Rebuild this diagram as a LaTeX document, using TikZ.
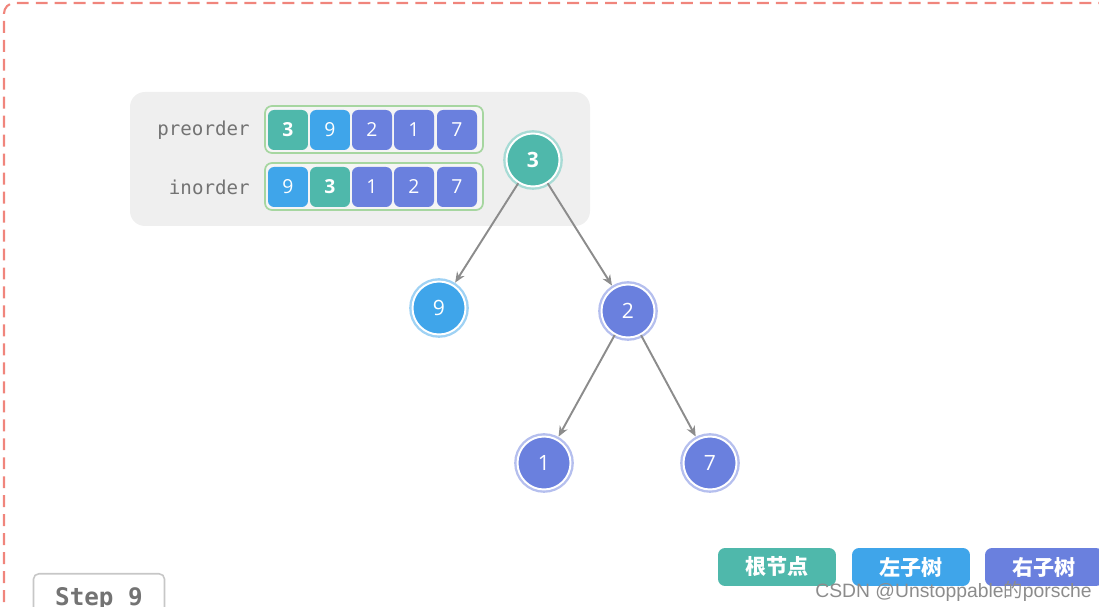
\documentclass[tikz,border=0pt]{standalone}
\usepackage{fontspec}
\setmainfont{Open Sans}
\setmonofont{DejaVu Sans Mono}
\newfontfamily\cjkfont{Noto Sans CJK SC}
\newfontfamily\wmfont{Liberation Sans}
\usetikzlibrary{arrows.meta}
\definecolor{colTeal}{HTML}{4FB8AB}
\definecolor{colBlue}{HTML}{3FA5EA}
\definecolor{colPurple}{HTML}{6A80DE}
\definecolor{colPanel}{HTML}{EFEFEF}
\definecolor{colFrame}{HTML}{A6D6A0}
\definecolor{colDash}{HTML}{F0857C}
\definecolor{colEdge}{HTML}{8C8C8C}
\def\cellfont{\fontsize{11pt}{13pt}\selectfont}
\def\treefont{\fontsize{12pt}{14pt}\selectfont}
\def\seqfont{\fontsize{10.9pt}{13pt}\selectfont\ttfamily}
\def\lgdfont{\fontsize{12pt}{14pt}\selectfont\cjkfont\bfseries}
\def\stepfont{\fontsize{13.8pt}{16pt}\selectfont\ttfamily\bfseries}
\def\wmkfont{\fontsize{11pt}{13pt}\selectfont\wmfont}
\tikzset{
  cell/.style={rectangle, rounded corners=3.5pt, fill=#1, text=white, font=\cellfont,
    minimum width=0.8cm, minimum height=0.8cm, inner sep=0pt},
  tnode/.style={circle, fill=#1, draw=white, line width=1.1pt, minimum size=1.06cm,
    inner sep=0pt, text=white, font=\treefont, preaction={draw=#1!50, line width=3.8pt}},
  edge/.style={-{Stealth[length=6pt,width=5pt]}, draw=colEdge, line width=1.1pt, shorten >=1.5pt},
  lgd/.style={rectangle, rounded corners=4pt, fill=#1, text=white, font=\lgdfont,
    minimum width=2.36cm, minimum height=0.76cm, inner sep=0pt},
  stepbox/.style={rectangle, rounded corners=3pt, draw=black!22, fill=white, line width=0.9pt,
    text=black!55, font=\stepfont, minimum width=2.62cm, text height=10pt, text depth=3pt,
    inner ysep=8.1pt}
}
\newcommand{\acell}[5]{%
  \node[cell=#4] (#1) at (#2,#3) {#5};}
\newcommand{\tn}[5]{%
  \node[tnode=#4] (#1) at (#2,#3) {#5};}

\begin{document}
\begin{tikzpicture}[x=0.02cm, y=-0.02cm]
\useasboundingbox (0,0) rectangle (1099,607);
\clip (0,0) rectangle (1099,607);

% ===================== FRAME =====================
\draw[colDash, line width=1.2pt, dash pattern=on 6.8pt off 4pt, rounded corners=6pt]
  (4,640) -- (4,3) -- (1130,3);

% ===================== PANEL: preorder / inorder =====================
\fill[colPanel, rounded corners=8.5pt] (130,92) rectangle (590,226);

\node[anchor=east, font=\seqfont, text=black!55, inner sep=0pt] (preLbl) at (250,130) {preorder};
\node[anchor=east, font=\seqfont, text=black!55, inner sep=0pt] (inLbl) at (250,187) {inorder};

\draw[colFrame, fill=colPanel!60!white, line width=1pt, rounded corners=4pt] (265,106) rectangle (483,153);
\draw[colFrame, fill=colPanel!60!white, line width=1pt, rounded corners=4pt] (265,163) rectangle (483,210);

\acell{pre1}{288}{130}{colTeal}{\bfseries 3}
\acell{pre2}{330}{130}{colBlue}{9}
\acell{pre3}{372}{130}{colPurple}{2}
\acell{pre4}{414}{130}{colPurple}{1}
\acell{pre5}{457}{130}{colPurple}{7}

\acell{in1}{288}{187}{colBlue}{9}
\acell{in2}{330}{187}{colTeal}{\bfseries 3}
\acell{in3}{372}{187}{colPurple}{1}
\acell{in4}{414}{187}{colPurple}{2}
\acell{in5}{457}{187}{colPurple}{7}

% ===================== TREE =====================
\tn{r3}{533}{160}{colTeal}{\bfseries 3}
\tn{n9}{439}{308}{colBlue}{9}
\tn{n2}{628}{311}{colPurple}{2}
\tn{n1}{544}{463}{colPurple}{1}
\tn{n7}{710}{463}{colPurple}{7}

\draw[edge] (r3) -- (n9);
\draw[edge] (r3) -- (n2);
\draw[edge] (n2) -- (n1);
\draw[edge] (n2) -- (n7);

% ===================== LEGEND =====================
\node[lgd=colTeal] (lgRoot) at (777,567) {根节点};
\node[lgd=colBlue] (lgLeft) at (911,567) {左子树};
\node[lgd=colPurple] (lgRight) at (1044,567) {右子树};

\node[stepbox, anchor=north] (step) at (99,573) {Step 9};

\node[anchor=west, font=\wmkfont, text=black!45, inner sep=0pt] (wm) at (815,591)
  {CSDN @Unstoppable{\cjkfont 的}porsche};

\end{tikzpicture}
\end{document}
